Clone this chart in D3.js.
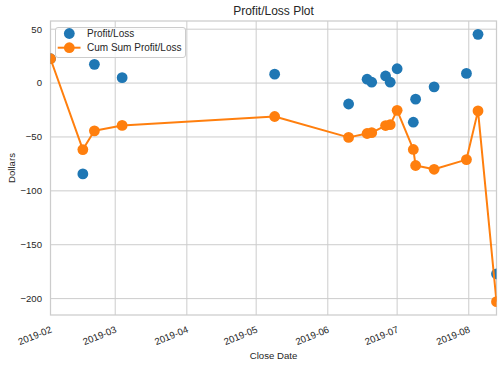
<!DOCTYPE html>
<html>
<head>
<meta charset="utf-8">
<script src="https://cdn.jsdelivr.net/npm/d3@7"></script>
<style>
  html, body { margin: 0; padding: 0; background: #fff; }
  svg { display: block; font-family: "Liberation Sans", Arial, sans-serif; }
</style>
</head>
<body>
<svg id="chart" width="503" height="368"></svg>
<script>
// ---- data ----
const closeDates = ["2019-02-01","2019-02-15","2019-02-20","2019-03-04","2019-05-09","2019-06-10",
  "2019-06-18","2019-06-20","2019-06-26","2019-06-28","2019-07-01","2019-07-08","2019-07-09",
  "2019-07-17","2019-07-31","2019-08-05","2019-08-13"];
const profitLoss = [22.6, -84.3, 17.4, 5.0, 8.3, -19.4, 3.6, 0.8, 6.6, 0.8, 13.3, -36.3, -14.9, -3.5, 9.0, 45.2, -177.0];
const cumSumProfitLoss = [22.6, -61.7, -44.3, -39.3, -31.0, -50.4, -46.8, -46.0, -39.4, -38.6, -25.3, -61.6, -76.5, -80.0, -71.0, -25.8, -202.8];
const yTicks = [50, 0, -50, -100, -150, -200];
const xTickLabels = ["2019-02","2019-03","2019-04","2019-05","2019-06","2019-07","2019-08"];
const seriesNames = ["Profit/Loss", "Cum Sum Profit/Loss"];
const titleText = "Profit/Loss Plot";
const xLabel = "Close Date";
const yLabel = "Dollars";

// ---- layout ----
const W = 503, H = 368;
const m = { left: 50.5, right: 496.5, top: 21, bottom: 315 };
const blue = "#1f77b4", orange = "#ff7f0e";
const textColor = "#262626", gridColor = "#cccccc";

const parse = d3.utcParse("%Y-%m-%d");
const dates = closeDates.map(parse);

const x = d3.scaleUtc()
  .domain(d3.extent(dates))
  .range([m.left, m.right]);

const allVals = profitLoss.concat(cumSumProfitLoss);
const lo = d3.min(allVals), hi = d3.max(allVals), pad = (hi - lo) * 0.05;
const y = d3.scaleLinear()
  .domain([lo - pad, hi + pad])
  .range([m.bottom, m.top]);

const svg = d3.select("#chart");
svg.append("rect").attr("width", W).attr("height", H).attr("fill", "#fff");

svg.append("defs").append("clipPath").attr("id", "clip")
  .append("rect")
  .attr("x", m.left).attr("y", m.top)
  .attr("width", m.right - m.left).attr("height", m.bottom - m.top);

// grid
const xTickDates = xTickLabels.map(s => parse(s + "-01"));
const grid = svg.append("g");
grid.selectAll("line.v").data(xTickDates).join("line")
  .attr("x1", d => x(d)).attr("x2", d => x(d))
  .attr("y1", m.top).attr("y2", m.bottom)
  .attr("stroke", gridColor).attr("stroke-width", 1);
grid.selectAll("line.h").data(yTicks).join("line")
  .attr("x1", m.left).attr("x2", m.right)
  .attr("y1", d => y(d)).attr("y2", d => y(d))
  .attr("stroke", gridColor).attr("stroke-width", 1);

// spines
svg.append("rect")
  .attr("x", m.left).attr("y", m.top)
  .attr("width", m.right - m.left).attr("height", m.bottom - m.top)
  .attr("fill", "none").attr("stroke", gridColor).attr("stroke-width", 1.25);

// y axis labels
const fmtY = d => (d < 0 ? "\u2212" + Math.abs(d) : String(d));
svg.append("g").selectAll("text").data(yTicks).join("text")
  .attr("x", 42).attr("y", d => y(d))
  .attr("dy", "0.35em")
  .attr("text-anchor", "end")
  .attr("font-size", 9.6).attr("fill", textColor)
  .text(fmtY);

// x axis labels (rotated)
const fmtX = d3.utcFormat("%Y-%m");
svg.append("g").selectAll("text").data(xTickDates).join("text")
  .attr("transform", d => `translate(${x(d) + 2},332) rotate(-22)`)
  .attr("text-anchor", "end")
  .attr("font-size", 9.6).attr("fill", textColor)
  .text(d => fmtX(d));

// axis titles
svg.append("text")
  .attr("x", (m.left + m.right) / 2).attr("y", 359)
  .attr("text-anchor", "middle").attr("font-size", 9.6).attr("fill", textColor)
  .text(xLabel);
svg.append("text")
  .attr("transform", `translate(14.5,${(m.top + m.bottom) / 2}) rotate(-90)`)
  .attr("text-anchor", "middle").attr("font-size", 9.6).attr("fill", textColor)
  .text(yLabel);
svg.append("text")
  .attr("x", (m.left + m.right) / 2).attr("y", 15)
  .attr("text-anchor", "middle").attr("font-size", 12).attr("fill", textColor)
  .text(titleText);

// data
const plot = svg.append("g").attr("clip-path", "url(#clip)");
const r = 5.4;
plot.selectAll("circle.pl").data(dates).join("circle")
  .attr("class", "pl")
  .attr("cx", d => x(d)).attr("cy", (d, i) => y(profitLoss[i]))
  .attr("r", r).attr("fill", blue);

const line = d3.line().x(d => x(d[0])).y(d => y(d[1]));
plot.append("path")
  .datum(dates.map((d, i) => [d, cumSumProfitLoss[i]]))
  .attr("d", line)
  .attr("fill", "none").attr("stroke", orange).attr("stroke-width", 2)
  .attr("stroke-linejoin", "round");
plot.selectAll("circle.cs").data(dates).join("circle")
  .attr("class", "cs")
  .attr("cx", d => x(d)).attr("cy", (d, i) => y(cumSumProfitLoss[i]))
  .attr("r", r).attr("fill", orange);

// legend
const lg = svg.append("g");
lg.append("rect")
  .attr("x", 55.5).attr("y", 27.5).attr("width", 130).attr("height", 30)
  .attr("rx", 2.5).attr("ry", 2.5)
  .attr("fill", "#fff").attr("fill-opacity", 0.8)
  .attr("stroke", gridColor).attr("stroke-width", 1);
lg.append("circle").attr("cx", 69.3).attr("cy", 33.5).attr("r", r).attr("fill", blue);
lg.append("line").attr("x1", 57.7).attr("x2", 80.5).attr("y1", 47.7).attr("y2", 47.7)
  .attr("stroke", orange).attr("stroke-width", 2);
lg.append("circle").attr("cx", 69.3).attr("cy", 47.7).attr("r", r).attr("fill", orange);
lg.selectAll("text").data(seriesNames).join("text")
  .attr("x", 87).attr("y", (d, i) => 33.5 + i * 14.2)
  .attr("dy", "0.35em")
  .attr("font-size", 10).attr("fill", textColor)
  .text(d => d);
</script>
</body>
</html>
